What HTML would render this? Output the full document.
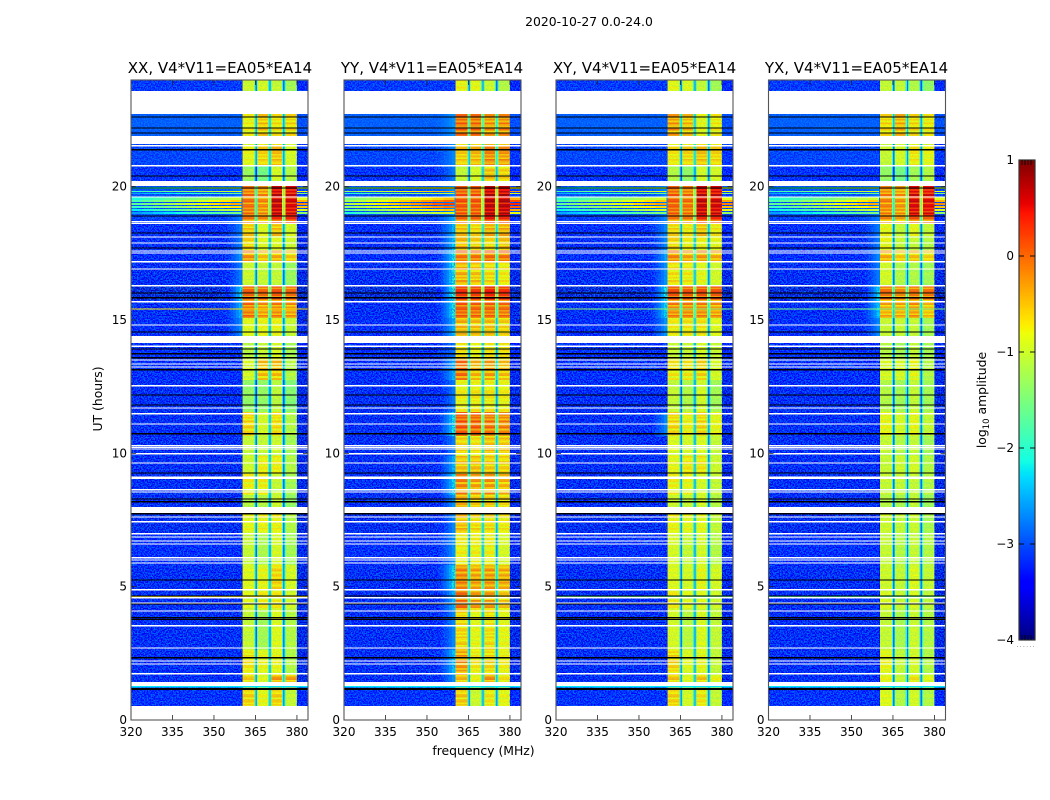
<!DOCTYPE html>
<html lang="en">
<head>
<meta charset="utf-8">
<title>2020-10-27 dynamic spectra</title>
<style>
html,body{margin:0;padding:0;background:#fff;width:1050px;height:800px;overflow:hidden}
svg{display:block}
text{font-family:"DejaVu Sans","Liberation Sans",sans-serif;fill:#000}
.tick{font-size:12px}
.ttl{font-size:15px}
.lab{font-size:12.4px}
</style>
</head>
<body>
<svg id="figure" xmlns="http://www.w3.org/2000/svg" width="1050" height="800" viewBox="0 0 1050 800">
  <defs>
    <filter id="speckle" x="0" y="0" width="100%" height="100%" color-interpolation-filters="sRGB">
      <feTurbulence type="fractalNoise" baseFrequency="0.72" numOctaves="2" seed="7"/>
      <feColorMatrix type="matrix" values="0 0 0 0 0  0 0 0 0 0.5  0 0 0 0 1  5.5 0 0 0 -2.3"/>
    </filter>
  </defs>
  <text x="589" y="26" text-anchor="middle" class="lab">2020-10-27 0.0-24.0</text>
  <g id="panels"></g>
  <text x="220" y="73" text-anchor="middle" class="ttl">XX, V4*V11=EA05*EA14</text>
  <text x="432" y="73" text-anchor="middle" class="ttl">YY, V4*V11=EA05*EA14</text>
  <text x="644.5" y="73" text-anchor="middle" class="ttl">XY, V4*V11=EA05*EA14</text>
  <text x="856.5" y="73" text-anchor="middle" class="ttl">YX, V4*V11=EA05*EA14</text>
  <text x="483.5" y="755" text-anchor="middle" class="lab">frequency (MHz)</text>
  <text transform="translate(102,399) rotate(-90)" text-anchor="middle" class="lab">UT (hours)</text>
  <text transform="translate(986,400) rotate(-90)" text-anchor="middle" class="lab">log<tspan dy="3" font-size="8.5">10</tspan><tspan dy="-3"> amplitude</tspan></text>
  <g id="colorbar"></g>
  <text x="1026" y="647" text-anchor="middle" font-size="7" style="fill:#888;letter-spacing:1px">......</text>
</svg>
<script>
// ---------- chart data (log10 amplitude, hours, MHz) ----------
const segmentEdgesHours = [24.00,22.725,21.60,20.81,20.03,18.90,18.64,18.15,17.63,17.18,16.28,15.75,15.08,14.14,13.58,12.75,11.55,10.65,9.90,9.23,8.44,7.76,6.98,5.81,4.88,4.13,2.63,1.69,1.16,0.53];
const backgroundLevels = [-3.3,-3.0,-3.2,-3.35,-3.1,-3.25,-3.4,-3.45,-3.45,-3.5,-3.7,-3.5,-3.45,-3.35,-3.45,-3.5,-3.5,-3.5,-3.5,-3.5,-3.5,-3.55,-3.45,-3.5,-3.5,-3.5,-3.5,-3.5,-3.35];
// each row: four sub-band levels, then the low-frequency skirt level
const xxLevels = [
[-.95,-.9,-1,-1.2,-3],[-.75,-.5,-.65,-.6,-3],[-.8,-.6,-.5,-.9,-3],[-1.25,-1.5,-.9,-1.1,-3],
[-.1,-.25,.6,.5,-2.8],[-.2,-.3,.2,.2,-2.8],[-.55,-.85,-.5,-.9,-2.8],[-.6,-.85,-.85,-.95,-2.8],
[-.25,-.5,-.4,-.55,-2.6],[-.95,-1,-1,-1.25,-2.8],[0,-.05,.05,-.05,-2.2],[-.1,-.3,-.2,-.3,-2.4],
[-.85,-.8,-.8,-1,-2.7],[-1.1,-1,-.9,-1.2,-3],[-.9,-.5,-.5,-1.1,-3],[-1.3,-1.3,-1.05,-1.4,-3],
[-.6,-.9,-.65,-1.1,-3],[-1,-1,-.95,-1.2,-3],[-.95,-.75,-.75,-1.1,-3],[-.75,-.75,-1,-1.2,-3],
[-1.1,-1.1,-.95,-1.3,-3],[-.8,-.75,-.75,-1.1,-3],[-1,-1.15,-.9,-1.2,-3],[-.85,-.8,-.6,-.9,-3],
[-.85,-.75,-.75,-.95,-3],[-1,-1.2,-.85,-1.1,-3],[-.7,-.8,-.8,-1.1,-3],[-.6,-.85,-.35,-.4,-3],
[-.6,-.8,-.6,-1,-3]];
const yyLevels = [
[-.75,-.8,-.95,-1.1,-3],[-.02,-.05,-.25,-.2,-2.6],[-.55,-.45,-.2,-.3,-2.7],[-1,-.9,-.5,-.6,-2.8],
[.05,.05,.65,.65,-2.6],[-.1,-.1,.3,.2,-2.4],[-.5,-.6,-.4,-.4,-2.4],[-.45,-.55,-.6,-.5,-2.3],
[-.1,-.1,-.05,-.1,-2.1],[-.4,-.5,-.6,-.7,-2.0],[.25,.2,.35,.25,-1.9],[0,-.05,-.05,-.1,-2.0],
[-.45,-.5,-.5,-.6,-2.4],[-.7,-.8,-.7,-.7,-2.9],[-.1,-.45,-.35,-.5,-2.4],[-.75,-.7,-.7,-.75,-2.8],
[.05,0,-.1,-.2,-2.1],[-.6,-.65,-.5,-.55,-2.8],[-.5,-.5,-.55,-.6,-2.4],[-.2,-.35,-.3,-.45,-2.2],
[-.4,-.55,-.55,-.65,-2.6],[-.45,-.6,-.6,-.7,-2.7],[-.75,-.75,-.75,-.9,-2.6],[-.2,-.35,-.3,-.4,-2.1],
[-.1,-.35,-.35,-.55,-2.4],[-.6,-.8,-.65,-.8,-2.7],[-.3,-.7,-.6,-.75,-2.3],[-.5,-.8,-.3,-.7,-2.6],
[-.55,-.95,-.7,-.8,-3]];
const xyLevels = [
[-.8,-.85,-1,-1.2,-3],[-.3,-.45,-.8,-.7,-3],[-.7,-.6,-.5,-.6,-3],[-1.1,-1.3,-.9,-.9,-3],
[0,-.1,.6,.55,-2.7],[-.2,-.2,.2,.2,-2.7],[-.6,-.7,-.5,-.7,-2.7],[-.6,-.75,-.75,-.8,-2.7],
[-.2,-.35,-.3,-.4,-2.5],[-.65,-.7,-.8,-.9,-2.6],[.1,.05,.1,.05,-2.1],[-.2,-.2,-.2,-.3,-2.2],
[-.75,-.7,-.7,-.85,-2.6],[-1,-1,-.9,-1,-3],[-.7,-.7,-.6,-.9,-3],[-1,-1.1,-.9,-1.2,-3],
[-.6,-.75,-.6,-.8,-2.7],[-.85,-.9,-.85,-1,-3],[-.8,-.7,-.7,-.95,-3],[-.75,-.8,-.9,-1,-3],
[-.95,-1,-.9,-1.1,-3],[-.75,-.8,-.8,-1,-3],[-.9,-1,-.9,-1.1,-3],[-.85,-.9,-.8,-.9,-3],
[-.75,-.85,-.85,-.95,-3],[-.9,-1.05,-.85,-1,-3],[-.6,-.85,-.8,-1,-3],[-.55,-.85,-.55,-.8,-3],
[-.6,-.9,-.7,-1,-3]];
const yxLevels = [
[-1,-1,-1.1,-1.3,-3],[-.6,-.4,-.6,-.7,-3],[-1,-.9,-.7,-.8,-3],[-1.3,-1.5,-1.2,-1.1,-3],
[-.2,-.3,.5,.45,-2.8],[-.3,-.4,0,-.1,-2.8],[-.8,-1,-.8,-1,-2.8],[-.8,-1,-1,-1.1,-2.8],
[-.4,-.55,-.5,-.6,-2.7],[-.9,-1.1,-1.1,-1.2,-2.8],[-.1,-.2,-.1,-.1,-2.2],[-.4,-.4,-.3,-.5,-2.3],
[-1,-1,-1,-1.2,-2.7],[-1.1,-1.2,-1,-1.2,-3],[-.9,-.9,-.8,-1.1,-3],[-1.1,-1.2,-1,-1.2,-3],
[-.8,-.9,-.8,-1,-3],[-1,-1.1,-1,-1.2,-3],[-1,-.95,-.9,-1.1,-3],[-1,-1,-1,-1.1,-3],
[-1.1,-1.15,-1,-1.25,-3],[-.95,-1,-.95,-1.15,-3],[-1,-1.1,-1,-1.1,-3],[-.95,-1,-.85,-1,-3],
[-.9,-1,-.9,-1.05,-3],[-1,-1.15,-.95,-1.1,-3],[-.8,-1,-.9,-1.1,-3],[-.8,-1,-.7,-.85,-3],
[-.85,-1.1,-.9,-1.1,-3]];
const panelLevels = [xxLevels, yyLevels, xyLevels, yxLevels];
// bright rows leaking across the whole band: start h, end h, level at 320 MHz, level at 360 MHz
const sidelobeStart = [19.99,19.84,19.76,19.61,19.50,19.39,19.28,19.16,19.05];
const sidelobeEnd   = [19.91,19.80,19.73,19.50,19.43,19.31,19.20,19.09,18.98];
const sidelobeAt320 = [-2.4,-1.9,-2.6,-2.1,-1.8,-1.7,-1.9,-2.2,-2.6];
const sidelobeAt360 = [-1.3,-.8,-1.5,-.9,-.4,-.2,-.5,-.9,-1.4];
const sidelobeOffset = [0,.55,.05,0];
// narrow impulsive rows: start h, end h, per-panel level (null = absent)
const spikeStart = [15.43,4.65];
const spikeEnd   = [15.39,4.61];
const spikeLevels = [[-.7,null,-1.4,-1.5],[-.7,null,-1.6,-1.7]];
const cyanRowStart = 1.28, cyanRowEnd = 1.21, cyanRowLevel = -2.25;
// flagged rows
const whiteBlockStart = [23.59,21.90,20.21,14.40,7.99,1.43];
const whiteBlockEnd   = [22.73,21.60,20.03,14.14,7.76,1.28];
const whiteRowHours = [21.53,20.78,19.61,18.68,18.62,18.11,17.89,17.59,17.51,17.18,16.91,16.28,15.68,14.81,14.02,13.50,13.35,13.24,12.53,11.70,11.48,11.10,10.28,10.22,10.16,9.98,9.64,9.11,9.06,8.63,8.55,7.61,7.43,6.98,6.86,6.71,6.60,6.08,6.00,5.89,4.88,4.58,4.39,4.09,3.53,2.70,2.21,2.10,1.73];
const blackRowHours = [22.61,22.20,22.01,21.38,20.40,19.95,18.90,18.26,17.70,16.01,15.83,14.55,13.91,13.73,13.58,13.13,12.19,11.81,10.73,9.26,8.29,8.18,7.73,5.25,4.65,4.35,3.83,3.77,2.33];
const thickBlackHours = [1.16];
// colour-bar & axis tick labels
const xTicks = [320,335,350,365,380];
const yTicks = [0,5,10,15,20];
const colorbarTicks = [1,0,-1,-2,-3,-4];
const rowStripeOffsets = [.15,-.2,.05,-.3,.2,-.1,-.25,.1,.2,-.35,.05];
const skirtFade = [.08,.15,.25,.4,.55,.75,1];

// ---------- layout ----------
const panelLeft = [131,344,556,768.5], panelW = 177, panelTop = 80, panelBottom = 720;
const freqMin = 320, freqMax = 384, hourMin = 0, hourMax = 24;
const SVGNS = 'http://www.w3.org/2000/svg';
const xScale = (p,f) => panelLeft[p] + (f-freqMin)/(freqMax-freqMin)*panelW;
const yScale = h => panelBottom - (h-hourMin)/(hourMax-hourMin)*(panelBottom-panelTop);

function jet(v){
  const t = Math.max(0,Math.min(1,(v+4)/5));
  const ramp = (pts)=>{for(let i=1;i<pts.length;i++){if(t<=pts[i][0]){const a=pts[i-1],b=pts[i];return a[1]+(b[1]-a[1])*(t-a[0])/(b[0]-a[0]);}}return pts[pts.length-1][1];};
  const r = ramp([[0,0],[.35,0],[.66,1],[.89,1],[1,.5]]);
  const g = ramp([[0,0],[.125,0],[.375,1],[.64,1],[.91,0],[1,0]]);
  const b = ramp([[0,.5],[.11,1],[.34,1],[.65,0],[1,0]]);
  return 'rgb('+Math.round(r*255)+','+Math.round(g*255)+','+Math.round(b*255)+')';
}
function newEl(tag,parent){const el=document.createElementNS(SVGNS,tag);parent.appendChild(el);return el;}

function addCell(g,p,f0,f1,h0,h1,v){
  const x0=xScale(p,f0),x1=xScale(p,f1),y0=yScale(h0),y1=yScale(h1);
  const el=newEl('rect',g);
  
  
  el.setAttribute('x',x0.toFixed(2));
  el.setAttribute('y',y0.toFixed(2));
  el.setAttribute('width',(x1-x0).toFixed(2));
  el.setAttribute('height',(y1-y0).toFixed(2));
  el.setAttribute('fill',jet(v));
}
function addFlag(g,p,h0,h1,color){
  const el=newEl('rect',g);
  
  
  el.setAttribute('x',panelLeft[p]);
  el.setAttribute('y',yScale(h0).toFixed(2));
  el.setAttribute('width',panelW);
  el.setAttribute('height',(yScale(h1)-yScale(h0)).toFixed(2));
  el.setAttribute('fill',color);
}
function addSpeckle(g,p,f0,f1,opacity){
  const el=newEl('rect',g);
  
  
  el.setAttribute('x',xScale(p,f0));
  el.setAttribute('y',yScale(segmentEdgesHours[0]));
  el.setAttribute('width',xScale(p,f1)-xScale(p,f0));
  el.setAttribute('height',yScale(segmentEdgesHours[segmentEdgesHours.length-1])-yScale(segmentEdgesHours[0]));
  el.setAttribute('filter','url(#speckle)');
  el.setAttribute('opacity',opacity);
}
function addLine(g,x1,y1,x2,y2,name,stroke,w){
  const el=newEl('line',g);
  
  
  el.setAttribute('x1',x1);el.setAttribute('y1',y1);el.setAttribute('x2',x2);el.setAttribute('y2',y2);
  el.setAttribute('stroke',stroke);el.setAttribute('stroke-width',w);
}
function addTickLabel(g,x,y,anchor,str,name){
  const el=newEl('text',g);
  
  
  el.setAttribute('x',x);el.setAttribute('y',y);
  el.setAttribute('text-anchor',anchor);
  el.setAttribute('class','tick');
  el.textContent=str;
}

const rowStep = 0.0625;
function drawPanel(p){
  const root=document.getElementById('panels');
  const panel=newEl('g',root);
  
  
  const cells=newEl('g',panel);
  
  
  cells.setAttribute('shape-rendering','crispEdges');
  const levels=panelLevels[p];
  let rowIndex=0;
  for(let s=0;s<levels.length;s++){
    const top=segmentEdgesHours[s], bot=segmentEdgesHours[s+1];
    const row=levels[s], bg=backgroundLevels[s], skirt=row[4];
    const hasSkirt=skirt>-2.95;
    for(let h=top;h>bot+1e-6;h-=rowStep){
      const h1=Math.max(h-rowStep,bot);
      const off=rowStripeOffsets[rowIndex%rowStripeOffsets.length];rowIndex++;
      addCell(cells,p,320,353,h,h1,bg);
      for(let c=0;c<skirtFade.length;c++){
        const v=hasSkirt?bg+(skirt-bg)*skirtFade[c]:bg;
        addCell(cells,p,353+c,354+c,h,h1,v);
      }
      addCell(cells,p,360,360.4,h,h1,hasSkirt?skirt:bg);
      for(let k=0;k<4;k++){
        const lvl=row[k];
        const scale=Math.max(.25,Math.min(1,(lvl+1.1)/.8));
        const v=lvl+off*scale;
        const start=k===0?360.4:360+5*k+.8, end=k===3?380:360+5*k+4.6;
        addCell(cells,p,start,end,h,h1,v);
        if(k<3){
          const gapBase=(row[k]+row[k+1])/2;
          const gf=365+5*k;
          addCell(cells,p,gf-.4,gf,h,h1,-2.0+.8*(gapBase+1));
          addCell(cells,p,gf,gf+.5,h,h1,-2.8+.9*(gapBase+1));
          addCell(cells,p,gf+.5,gf+.8,h,h1,-2.0+.8*(gapBase+1));
        }
      }
      addCell(cells,p,380,384,h,h1,bg-.1);
    }
  }
  // noise speckle
  addSpeckle(panel,p,320,360,.8);
  addSpeckle(panel,p,380,384,.7);
  addSpeckle(panel,p,360,380,.1);
  const rows=newEl('g',panel);
  
  
  rows.setAttribute('shape-rendering','crispEdges');
  // sidelobe rows
  const lobeOff=sidelobeOffset[p];
  for(let i=0;i<sidelobeStart.length;i++){
    const a=sidelobeAt320[i]+lobeOff, b=sidelobeAt360[i]+lobeOff;
    for(let f=320;f<360;f+=4){
      addCell(rows,p,f,f+4,sidelobeStart[i],sidelobeEnd[i],a+(b-a)*(f-320)/40);
    }
    addCell(rows,p,380,384,sidelobeStart[i],sidelobeEnd[i],b);
  }
  // impulsive rows
  for(let i=0;i<spikeStart.length;i++){
    const lv=spikeLevels[i][p];
    if(lv===null) continue;
    addCell(rows,p,320,384,spikeStart[i],spikeEnd[i],lv);
  }
  addCell(rows,p,320,384,cyanRowStart,cyanRowEnd,cyanRowLevel);
  // flags
  const flags=newEl('g',panel);
  
  
  flags.setAttribute('shape-rendering','crispEdges');
  whiteRowHours.forEach(h=>addFlag(flags,p,h+.025,h-.025,'#fff'));
  blackRowHours.forEach(h=>addFlag(flags,p,h+.025,h-.025,'#000'));
  thickBlackHours.forEach(h=>addFlag(flags,p,h+.04,h-.04,'#000'));
  for(let i=0;i<whiteBlockStart.length;i++){addFlag(flags,p,whiteBlockStart[i],whiteBlockEnd[i],'#fff');}
  addFlag(flags,p,segmentEdgesHours[segmentEdgesHours.length-1],0,'#fff');
  // ticks
  const axes=newEl('g',panel);
  
  
  const L=panelLeft[p],R=L+panelW;
  xTicks.forEach(t=>{
    const x=xScale(p,t);
    addLine(axes,x,panelBottom,x,panelBottom-5,'x-tick','#222',.8);
    addLine(axes,x,panelTop,x,panelTop+5,'x-tick-top','#222',.8);
    addTickLabel(axes,x,736,'middle',String(t),'x-tick-label');
  });
  yTicks.forEach(t=>{
    const y=yScale(t);
    if(t>0){
      addLine(axes,L,y,L+5,y,'y-tick','#222',.8);
      addLine(axes,R,y,R-5,y,'y-tick-right','#222',.8);
    }
    addTickLabel(axes,L-4,y+4,'end',String(t),'y-tick-label');
  });
  // frame
  const frame=newEl('rect',axes);
  
  
  frame.setAttribute('x',L);frame.setAttribute('y',panelTop);
  frame.setAttribute('width',panelW);frame.setAttribute('height',panelBottom-panelTop);
  frame.setAttribute('fill','none');frame.setAttribute('stroke','#555');frame.setAttribute('stroke-width','1.1');
}
panelLevels.forEach((_,p)=>drawPanel(p));

// ---------- colour bar ----------
(function(){
  const g=document.getElementById('colorbar');
  const x=1019,w=16,top=160,bot=640;
  const vy=v=>top+(1-v)/5*(bot-top);
  const bars=newEl('g',g);
  
  
  bars.setAttribute('shape-rendering','crispEdges');
  for(let v=-4;v<1;v+=0.02){
    const el=newEl('rect',bars);
    
    
    el.setAttribute('x',x);el.setAttribute('y',vy(v+.02).toFixed(2));
    el.setAttribute('width',w);el.setAttribute('height',((bot-top)*.02/5+.4).toFixed(2));
    el.setAttribute('fill',jet(v+.01));
  }
  const frame=newEl('rect',g);
  
  
  frame.setAttribute('x',x);frame.setAttribute('y',top);frame.setAttribute('width',w);frame.setAttribute('height',bot-top);
  frame.setAttribute('fill','none');frame.setAttribute('stroke','#333');frame.setAttribute('stroke-width','1.2');
  colorbarTicks.forEach(t=>{
    const y=vy(t);
    if(t<1&&t>-4){
      addLine(g,x,y,x+5,y,'colorbar-tick','#000',.9);
      addLine(g,x+w,y,x+w-5,y,'colorbar-tick-right','#000',.9);
    }
    addTickLabel(g,x-5,y+4,'end',String(t).replace('-','\u2212'),'colorbar-tick-label');
  });
  [3,6,9,12].forEach(d=>{
    addLine(g,x+d,top,x+d,top+5,'colorbar-minor-tick','#000',.8);
    addLine(g,x+d,bot,x+d,bot-5,'colorbar-minor-tick','#000',.8);
  });
})();
</script>
</body>
</html>
